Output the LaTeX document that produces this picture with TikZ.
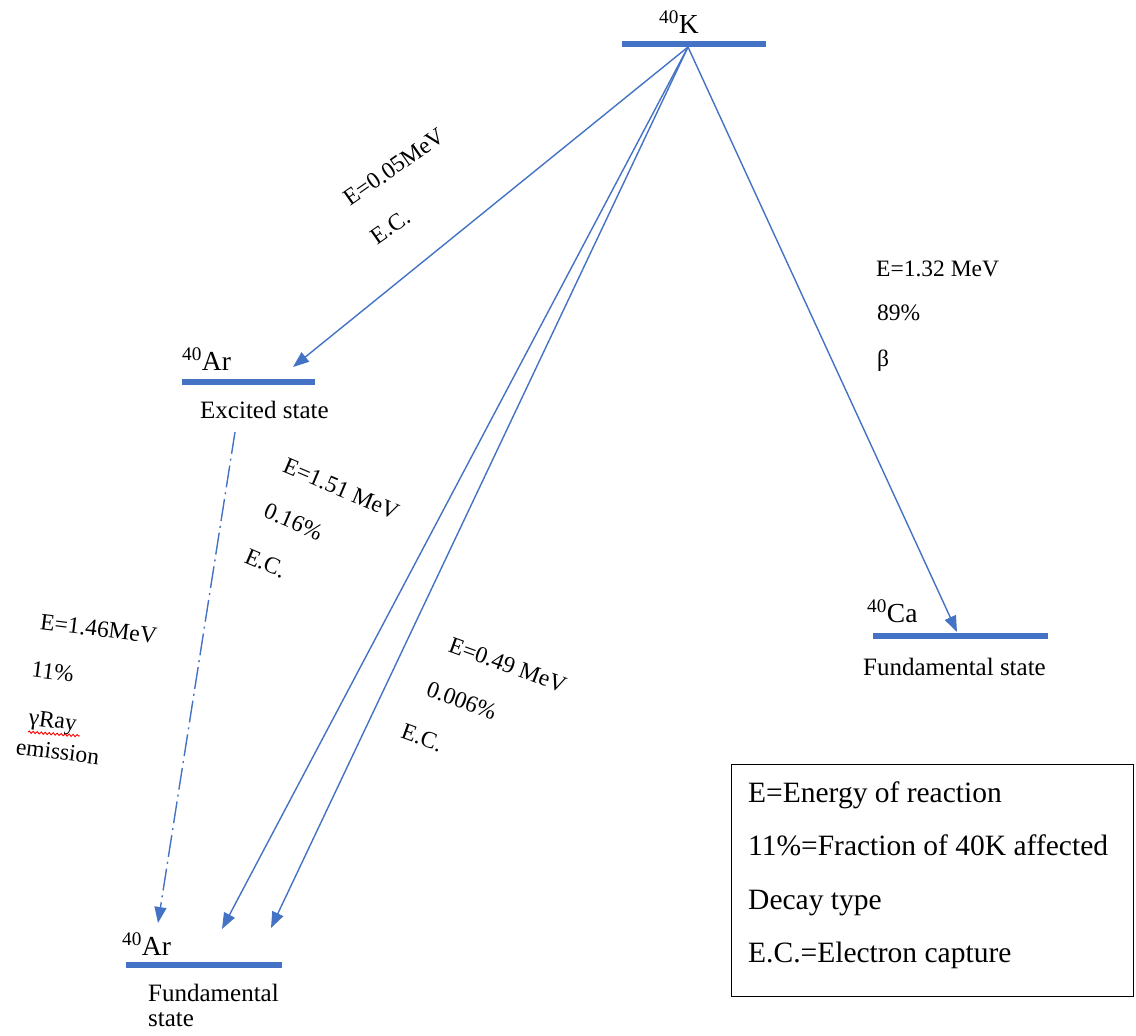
\documentclass[tikz,border=0pt]{standalone}
\usepackage{fontspec}
\setmainfont{Liberation Serif}
\usetikzlibrary{arrows.meta,decorations.pathmorphing}
\definecolor{obl}{HTML}{4472C4}
\begin{document}
\begin{tikzpicture}[x=1pt,y=-1pt,
  level/.style={line width=5.5pt,draw=obl},
  decay/.style={draw=obl,line width=1.4pt,-{Triangle[length=16pt,width=12pt]}},
  gammaline/.style={decay,dash pattern=on 22pt off 5pt on 2pt off 5pt},
  iso/.style={anchor=base west,inner sep=0pt,font=\fontsize{27.5}{30}\selectfont},
  state/.style={anchor=base west,inner sep=0pt,font=\fontsize{25}{30}\selectfont},
  lbl/.style={inner sep=0pt,font=\fontsize{23.5}{28}\selectfont},
  grp/.style={inner sep=0pt,align=left,font=\fontsize{23.5}{#1}\selectfont},
  legtxt/.style={anchor=base west,inner sep=0pt,font=\fontsize{29.5}{34}\selectfont}]
\useasboundingbox (0,0) rectangle (1136,1036);

% energy levels
\coordinate (K1) at (622,44);  \coordinate (K2) at (766,44);
\coordinate (AX1) at (182,382); \coordinate (AX2) at (315,382);
\coordinate (Ca1) at (873,636); \coordinate (Ca2) at (1048,636);
\coordinate (AG1) at (126,965); \coordinate (AG2) at (282,965);
\draw[level] (K1) -- (K2);
\draw[level] (AX1) -- (AX2);
\draw[level] (Ca1) -- (Ca2);
\draw[level] (AG1) -- (AG2);

% isotope labels
\node[iso] (Klab) at (659,33) {\textsuperscript{40}K};
\node[iso] (AXlab) at (182,370) {\textsuperscript{40}Ar};
\node[iso] (Calab) at (867,622) {\textsuperscript{40}Ca};
\node[iso] (AGlab) at (122,955) {\textsuperscript{40}Ar};

% state labels
\node[state] (AXst) at (200,418) {Excited state};
\node[state] (Cast) at (863,675) {Fundamental state};
\node[state,align=left,anchor=north west,font=\fontsize{25}{25}\selectfont] (AGst) at (148,984) {Fundamental\\state};

% decay connectors
\coordinate (Ksrc) at (688,47);
\coordinate (AXtip) at (293,367);
\coordinate (Catip) at (957,632);
\coordinate (AGtip1) at (222,929);
\coordinate (AGtip2) at (271,928);
\coordinate (AXtop) at (235,432);
\coordinate (AGtip0) at (158,923);
\draw[decay] (Ksrc) -- (AXtip);
\draw[decay] (Ksrc) -- (Catip);
\draw[decay] (Ksrc) -- (AGtip1);
\draw[decay] (Ksrc) -- (AGtip2);
\draw[gammaline] (AXtop) -- (AGtip0);

% connector labels
\node[grp=47,rotate=35] (a) at (408,186) {E=0.05MeV\\E.C.};

\node[lbl,anchor=base west] (b1) at (876,276) {E=1.32 MeV};
\node[lbl,anchor=base west] (b2) at (877,320) {89\%};
\node[lbl,anchor=base west] (b3) at (877,366) {β};

\node[grp=49,rotate=-23] (c) at (322,534) {E=1.51 MeV\\0.16\%\\E.C.};

\node[grp=48.8,rotate=-20] (d) at (491,711) {E=0.49 MeV\\\hspace*{-6pt}0.006\%\\\hspace*{-15pt}E.C.};

\node[grp=48,rotate=-7] (e) at (91,692) {E=1.46MeV\\\hspace*{-3pt}11\%\\γRay\\[-17pt]\hspace*{-9pt}emission};
\draw[red,line width=0.9pt,decorate,decoration={snake,amplitude=1.1pt,segment length=4pt}] (28,732) -- (80,736);

% legend
\node[draw,line width=1.2pt,minimum width=402pt,minimum height=232pt,anchor=north west,inner sep=0pt] (legend) at (731,764) {};
\node[legtxt] (L1) at (748,802) {E=Energy of reaction};
\node[legtxt] (L2) at (748,855) {11\%=Fraction of 40K affected};
\node[legtxt] (L3) at (748,909) {Decay type};
\node[legtxt] (L4) at (748,962) {E.C.=Electron capture};
\end{tikzpicture}
\end{document}
